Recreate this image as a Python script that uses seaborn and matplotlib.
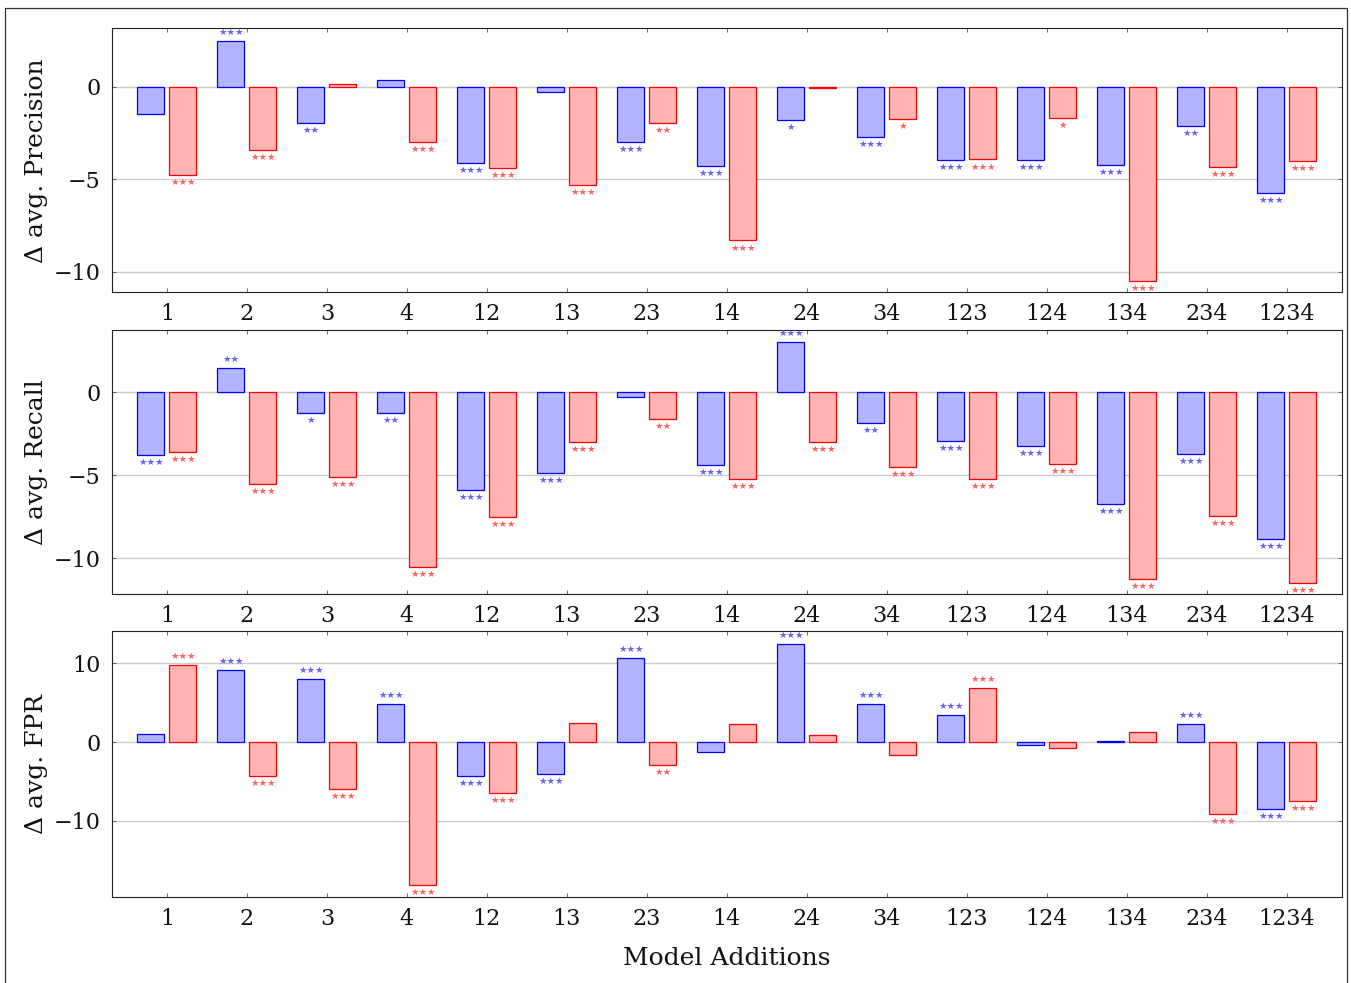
import matplotlib
matplotlib.use("Agg")
import matplotlib.pyplot as plt
import numpy as np
import pandas as pd
import seaborn as sns
from matplotlib.lines import Line2D

# ---- data -----------------------------------------------------------------
additions = ["1", "2", "3", "4", "12", "13", "23", "14", "24", "34",
             "123", "124", "134", "234", "1234"]
series = ["A", "B"]

precision_a = [-1.46, 2.50, -1.96, 0.38, -4.14, -0.31, -3.01, -4.27, -1.80, -2.74,
               -3.95, -3.96, -4.23, -2.14, -5.75]
precision_b = [-4.76, -3.41, 0.14, -2.99, -4.38, -5.30, -1.98, -8.31, -0.04, -1.75,
               -3.93, -1.71, -10.50, -4.34, -4.02]
precision_sig_a = ["", "***", "**", "", "***", "", "***", "***", "*", "***",
                   "***", "***", "***", "**", "***"]
precision_sig_b = ["***", "***", "", "***", "***", "***", "**", "***", "", "*",
                   "***", "*", "***", "***", "***"]

recall_a = [-3.76, 1.49, -1.22, -1.27, -5.86, -4.88, -0.28, -4.36, 3.01, -1.83,
            -2.93, -3.21, -6.75, -3.71, -8.86]
recall_b = [-3.59, -5.54, -5.10, -10.54, -7.53, -3.01, -1.63, -5.24, -2.97, -4.52,
            -5.20, -4.34, -11.24, -7.43, -11.47]
recall_sig_a = ["***", "**", "*", "**", "***", "***", "", "***", "***", "**",
                "***", "***", "***", "***", "***"]
recall_sig_b = ["***", "***", "***", "***", "***", "***", "**", "***", "***", "***",
                "***", "***", "***", "***", "***"]

fpr_a = [0.98, 9.13, 8.07, 4.88, -4.37, -4.08, 10.74, -1.32, 12.53, 4.88,
         3.44, -0.34, 0.17, 2.25, -8.54]
fpr_b = [9.85, -4.37, -5.94, -18.17, -6.45, 2.38, -2.93, 2.29, 0.89, -1.66,
         6.88, -0.81, 1.23, -9.21, -7.56]
fpr_sig_a = ["", "***", "***", "***", "***", "***", "***", "", "***", "***",
             "***", "", "", "***", "***"]
fpr_sig_b = ["***", "***", "***", "***", "***", "", "**", "", "", "",
             "***", "", "", "***", "***"]

panels = [
    ("Δ avg. Precision", precision_a, precision_b, precision_sig_a, precision_sig_b,
     [0, -5, -10], (-11.11, 3.16)),
    ("Δ avg. Recall", recall_a, recall_b, recall_sig_a, recall_sig_b,
     [0, -5, -10], (-12.17, 3.75)),
    ("Δ avg. FPR", fpr_a, fpr_b, fpr_sig_a, fpr_sig_b,
     [10, 0, -10], (-19.7, 14.1)),
]

# ---- style ----------------------------------------------------------------
sns.set_theme(style="white")
plt.rcParams["font.family"] = ["DejaVu Serif"]
plt.rcParams["axes.unicode_minus"] = True

fill_colors = ["#b3b3ff", "#ffb3b3"]
edge_colors = ["#0000ff", "#ff0000"]
star_colors = ["#6464ff", "#ff6464"]

W, H = 1351, 983
fig = plt.figure(figsize=(W / 100, H / 100), dpi=100)

left_px, right_px = 111.7, 1342.0
boxes = [(28.3, 292.3), (330.0, 594.3), (631.3, 896.7)]

axes = []
for (top_px, bot_px) in boxes:
    ax = fig.add_axes([left_px / W, 1 - bot_px / H,
                       (right_px - left_px) / W, (bot_px - top_px) / H])
    axes.append(ax)

for ax, (label, vals_a, vals_b, sig_a, sig_b, yticks, ylim) in zip(axes, panels):
    df = pd.DataFrame({
        "addition": additions * 2,
        "series": [series[0]] * len(additions) + [series[1]] * len(additions),
        "value": list(vals_a) + list(vals_b),
    })
    sns.barplot(data=df, x="addition", y="value", hue="series",
                order=additions, hue_order=series, palette=fill_colors,
                saturation=1, width=0.8, gap=0.15, errorbar=None,
                linewidth=0.9, legend=False, ax=ax, zorder=2)

    # significance stars at the end of each bar
    sigs = [sig_a, sig_b]
    for k, cont in enumerate(ax.containers):
        for patch in cont.patches:
            patch.set_edgecolor(edge_colors[k])
            xc = patch.get_x() + patch.get_width() / 2
            idx = int(round(xc))
            n = len(sigs[k][idx])
            if n == 0:
                continue
            y0 = patch.get_y()
            y1 = y0 + patch.get_height()
            top, bot = max(y0, y1), min(y0, y1)
            if top > 0:
                xy, dy = (xc, top), 8.5
            else:
                xy, dy = (xc, bot), -7.5
            ax.annotate("★" * n, xy=xy, xytext=(0, dy), textcoords="offset pixels",
                        ha="center", va="center", fontsize=6.8, color=star_colors[k],
                        family=["DejaVu Sans"], zorder=3, annotation_clip=False)

    ax.set_xlim(-0.69, 14.69)
    ax.set_ylim(*ylim)
    ax.set_yticks(yticks)
    ax.yaxis.grid(True, color="#cccccc", linewidth=1.0)
    ax.xaxis.grid(False)
    ax.set_axisbelow(True)
    for sp in ax.spines.values():
        sp.set_visible(True)
        sp.set_color("#222222")
        sp.set_linewidth(0.8)
    ax.tick_params(axis="both", direction="in", length=3, width=0.6, color="#555555",
                   labelsize=16, top=True, right=True, bottom=True, left=True,
                   labelcolor="#111111")
    ax.tick_params(axis="y", pad=8)
    ax.tick_params(axis="x", pad=8)
    ax.set_ylabel(label, fontsize=18, color="#111111")
    ax.yaxis.set_label_coords(-0.052, 0.5)
    ax.set_xlabel("")

axes[-1].set_xlabel("Model Additions", fontsize=18, color="#111111", va="top")
axes[-1].xaxis.set_label_coords(0.5, -0.188)

# outer frame
fx0, fx1 = 5.5 / W, 1346.5 / W
fy = 1 - 8 / H
fig.add_artist(Line2D([fx0, fx0, fx1, fx1], [0, fy, fy, 0], transform=fig.transFigure,
                      color="#333333", linewidth=0.9))

fig.savefig("out.png", dpi=100)
